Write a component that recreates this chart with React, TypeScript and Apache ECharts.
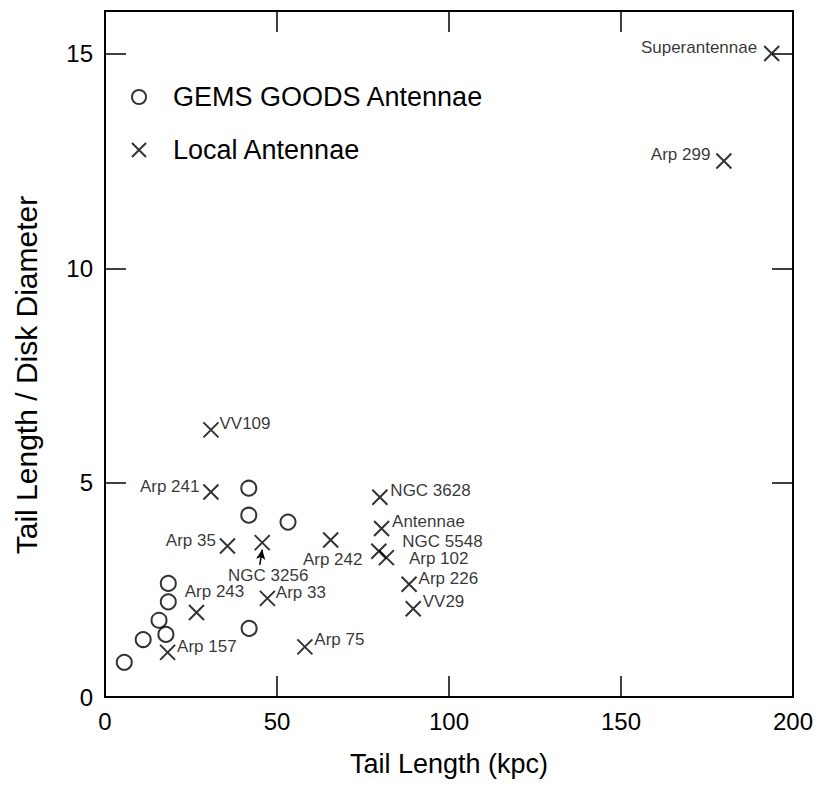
import React, { useEffect, useRef } from "react";
import * as echarts from "echarts";

// GEMS GOODS Antennae (tail length kpc, tail length / disk diameter)
const gemsX = [5.6, 11.1, 15.7, 17.7, 18.4, 18.4, 41.8, 41.8, 53.2, 41.9];
const gemsY = [0.81, 1.34, 1.79, 1.46, 2.22, 2.65, 4.87, 4.24, 4.08, 1.6];

// Local Antennae
const localNames = [
  "Superantennae", "Arp 299", "VV109", "Arp 241", "Arp 35", "NGC 3256", "Arp 243", "Arp 33", "Arp 157",
  "NGC 3628", "Antennae", "NGC 5548", "Arp 102", "Arp 242", "Arp 226", "VV29", "Arp 75",
];
const localX = [193.8, 179.9, 30.8, 30.8, 35.6, 45.7, 26.6, 47.2, 18.2, 79.9, 80.4, 79.6, 81.8, 65.6, 88.4, 89.6, 58.1];
const localY = [15.01, 12.5, 6.23, 4.78, 3.52, 3.6, 1.97, 2.3, 1.04, 4.66, 3.93, 3.4, 3.25, 3.66, 2.63, 2.06, 1.17];

// arrow pointing at NGC 3256 (data coords: from, to)
const arrowFrom = [45.0, 3.08];
const arrowTo = [45.7, 3.44];

const xTicks = { min: 0, max: 200, interval: 50 };
const yTicks = { min: 0, max: 16, interval: 5 };

// label placement (styles only)
const labelLayout: Record<string, { pos: string; off: [number, number] }> = {
  Superantennae: { pos: "left", off: [-6, -6] },
  "Arp 299": { pos: "left", off: [-5, -7] },
  VV109: { pos: "right", off: [0, -6] },
  "Arp 241": { pos: "left", off: [-3, -6] },
  "Arp 35": { pos: "left", off: [-3, -6] },
  "NGC 3256": { pos: "bottom", off: [6, 16] },
  "Arp 243": { pos: "top", off: [18, -4] },
  "Arp 33": { pos: "right", off: [0, -6] },
  "Arp 157": { pos: "right", off: [1, -6] },
  "NGC 3628": { pos: "right", off: [2, -7] },
  Antennae: { pos: "right", off: [2, -7] },
  "NGC 5548": { pos: "right", off: [15, -10] },
  "Arp 102": { pos: "right", off: [14, 1] },
  "Arp 242": { pos: "bottom", off: [2, 2] },
  "Arp 226": { pos: "right", off: [1, -6] },
  VV29: { pos: "right", off: [1, -7] },
  "Arp 75": { pos: "right", off: [1, -7] },
};

const FONT = "'Liberation Sans', Arial, Helvetica, sans-serif";
const CROSS = "path://M0,0L10,10M10,0L0,10";

export default function App() {
  const ref = useRef<HTMLDivElement>(null);
  useEffect(() => {
    document.body.style.margin = "0";
    if (!ref.current) return;
    const chart = echarts.init(ref.current, null, { renderer: "svg" });
    const hollow = { color: "rgba(0,0,0,0)", borderColor: "#000", borderWidth: 2 };
    const frame = { show: true, onZero: false, lineStyle: { color: "#000", width: 2 } };
    const tick = { show: true, inside: true, length: 21, lineStyle: { color: "#000", width: 1.5 } };
    const grid = { left: 105, right: 28, top: 11, bottom: 91 };
    chart.setOption({
      animation: false,
      backgroundColor: "#fff",
      textStyle: { fontFamily: FONT },
      grid,
      legend: {
        orient: "vertical",
        left: 131,
        top: 82,
        padding: 0,
        itemGap: 23,
        itemWidth: 14,
        itemHeight: 14,
        selectedMode: false,
        textStyle: { fontSize: 27, color: "#000", fontFamily: FONT, lineHeight: 30, padding: [0, 0, 0, 22] },
        data: [
          { name: "GEMS GOODS Antennae", icon: "circle", itemStyle: hollow },
          { name: "Local Antennae", icon: CROSS, itemStyle: hollow },
        ],
      },
      xAxis: [
        {
          type: "value", ...xTicks, position: "bottom",
          axisLine: frame, axisTick: tick, splitLine: { show: false },
          axisLabel: { fontSize: 24, color: "#000", margin: 12, fontFamily: FONT },
          name: "Tail Length (kpc)", nameLocation: "middle", nameGap: 53,
          nameTextStyle: { fontSize: 27, color: "#000", fontFamily: FONT },
        },
        {
          type: "value", ...xTicks, position: "top",
          axisLine: frame, axisTick: tick, splitLine: { show: false }, axisLabel: { show: false },
        },
      ],
      yAxis: [
        {
          type: "value", ...yTicks, position: "left",
          axisLine: frame, axisTick: tick, splitLine: { show: false },
          axisLabel: { fontSize: 24, color: "#000", margin: 12, fontFamily: FONT, showMaxLabel: false },
        },
        {
          type: "value", ...yTicks, position: "right",
          axisLine: frame, axisTick: tick, splitLine: { show: false }, axisLabel: { show: false },
        },
      ],
      graphic: [
        {
          type: "text",
          x: 26,
          y: 375,
          rotation: Math.PI / 2,
          style: {
            text: "Tail Length / Disk Diameter",
            fontSize: 30,
            fontFamily: FONT,
            fill: "#000",
            align: "center",
            verticalAlign: "middle",
          },
        },
      ],
      series: [
        {
          name: "GEMS GOODS Antennae",
          type: "scatter",
          symbol: "circle",
          symbolSize: 15,
          itemStyle: hollow,
          data: gemsX.map((x, i) => [x, gemsY[i]]),
        },
        {
          name: "Local Antennae",
          type: "scatter",
          symbol: CROSS,
          symbolSize: 15,
          itemStyle: hollow,
          data: localNames.map((n, i) => {
            const l = labelLayout[n];
            return {
              name: n,
              value: [localX[i], localY[i]],
              label: { position: l.pos, offset: l.off },
            };
          }),
          label: {
            show: true,
            formatter: "{b}",
            fontSize: 17,
            color: "#000",
            fontFamily: FONT,
            distance: 0,
          },
          markLine: {
            silent: true,
            animation: false,
            symbol: ["none", "arrow"],
            symbolSize: [7, 10],
            label: { show: false },
            lineStyle: { color: "#000", width: 1.5, type: "solid" },
            data: [[{ coord: arrowFrom }, { coord: arrowTo }]],
          },
        },
      ],
    });
    return () => chart.dispose();
  }, []);
  return <div ref={ref} style={{ width: 821, height: 788 }} />;
}
